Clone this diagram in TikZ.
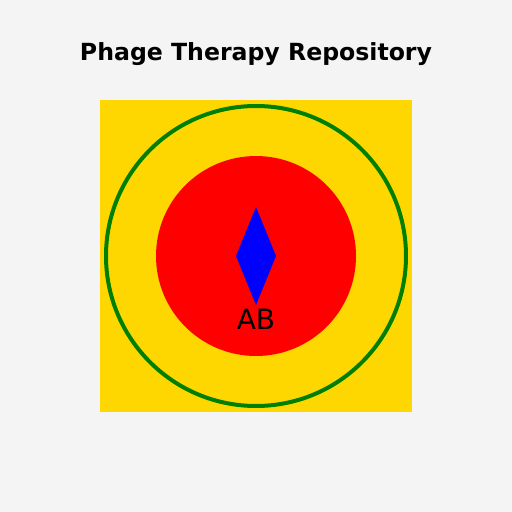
\documentclass[tikz,border=0pt]{standalone}
\usepackage{fontspec}
\setmainfont{DejaVu Sans}
\definecolor{bgc}{HTML}{F4F4F4}
\definecolor{goldc}{HTML}{FFD700}
\definecolor{greenc}{HTML}{008000}
\definecolor{redc}{HTML}{FF0000}
\definecolor{bluec}{HTML}{0000FF}
\begin{document}
\begin{tikzpicture}[x=1pt,y=-1pt,
  titlestyle/.style={font=\fontsize{23.6}{28}\selectfont\bfseries, inner sep=0pt, anchor=base},
  labelstyle/.style={font=\fontsize{28}{32}\selectfont, inner sep=0pt, anchor=base}]
\fill[bgc] (0,0) rectangle (512,512);
\useasboundingbox (0,0) rectangle (512,512);
\node[titlestyle] (title) at (256,60) {Phage Therapy Repository};
\fill[goldc] (100,100) rectangle (412,412);
\draw[greenc, line width=4pt] (256,256) circle[radius=150];
\fill[redc] (256,256) circle[radius=100];
\fill[bluec] (256,207) -- (276,256) -- (256,305) -- (236,256) -- cycle;
\node[labelstyle] (ab) at (256,329) {AB};
\end{tikzpicture}
\end{document}
